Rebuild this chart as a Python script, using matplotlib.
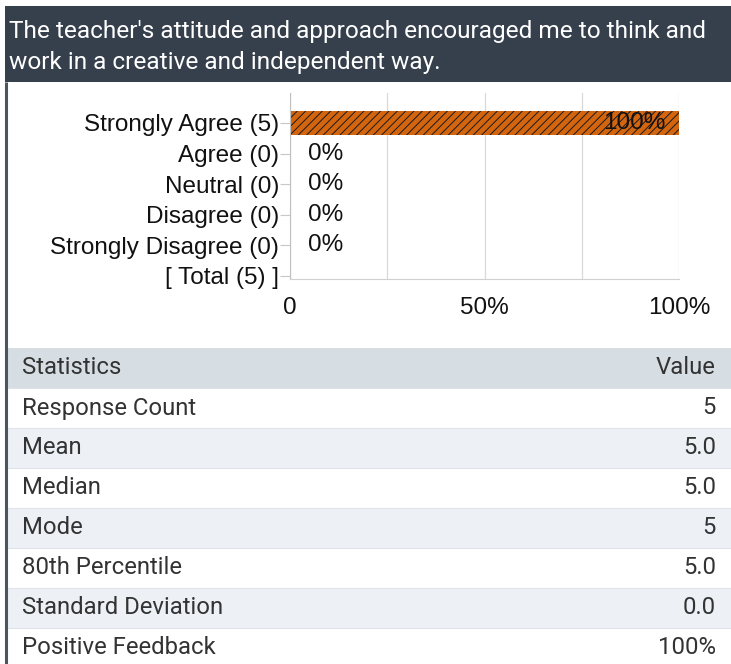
import matplotlib.pyplot as plt
from matplotlib.patches import Rectangle

# ── Data ───────────────────────────────────────────────────────────────
TITLE = ("The teacher's attitude and approach encouraged me to think and\n"
         "work in a creative and independent way.")
CATEGORIES = ["Strongly Agree (5)", "Agree (0)", "Neutral (0)",
              "Disagree (0)", "Strongly Disagree (0)", "[ Total (5) ]"]
PERCENTS = [100, 0, 0, 0, 0]
X_TICKS = [0, 25, 50, 75, 100]
X_TICK_LABELS = ["0", "", "50%", "", "100%"]
STAT_NAMES = ["Response Count", "Mean", "Median", "Mode",
              "80th Percentile", "Standard Deviation", "Positive Feedback"]
STAT_VALUES = ["5", "5.0", "5.0", "5", "5.0", "0.0", "100%"]
# ───────────────────────────────────────────────────────────────────────

plt.rcParams["hatch.linewidth"] = 0.7

W, H = 731, 664
fig = plt.figure(figsize=(W / 100, H / 100), dpi=100)

# fond en pixels (origine en haut à gauche)
bg = fig.add_axes([0, 0, 1, 1])
bg.set_xlim(0, W)
bg.set_ylim(H, 0)
bg.axis("off")

UI_FONT = "Roboto"
CHART_FONT = "Liberation Sans"
TXT = "#333333"

# bandeau titre
bg.add_patch(Rectangle((5, 6), W - 5, 76, color="#36404d", lw=0))
bg.text(9, 47, TITLE, color="white", fontsize=17.6, family=UI_FONT,
        va="center", ha="left", linespacing=1.4)

# bordure gauche
bg.plot([6, 6], [82, H], color="#4a5563", lw=2.2, solid_capstyle="butt")

# tableau de statistiques
row_h = 40
top = 348
fs_tab = 17.2
bg.add_patch(Rectangle((8, top), W - 8, row_h, color="#d6dee3", lw=0))
bg.text(22, top + row_h / 2, "Statistics", fontsize=fs_tab, family=UI_FONT,
        color=TXT, va="center")
bg.text(716, top + row_h / 2, "Value", fontsize=fs_tab, family=UI_FONT,
        color=TXT, va="center", ha="right")
for i, (name, val) in enumerate(zip(STAT_NAMES, STAT_VALUES)):
    y0 = top + row_h * (i + 1)
    if i % 2 == 1:
        bg.add_patch(Rectangle((8, y0), W - 8, row_h, color="#edf1f5", lw=0))
    bg.plot([8, W], [y0, y0], color="#dde3e8", lw=0.8)
    bg.text(22, y0 + row_h / 2, name, fontsize=fs_tab, family=UI_FONT,
            color=TXT, va="center")
    bg.text(716, y0 + row_h / 2, val, fontsize=fs_tab, family=UI_FONT,
            color=TXT, va="center", ha="right")

# ── Graphique à barres ─────────────────────────────────────────────────
ax_l, ax_r, ax_t, ax_b = 290, 679, 93, 279
ax = fig.add_axes([ax_l / W, 1 - ax_b / H, (ax_r - ax_l) / W, (ax_b - ax_t) / H])
ypos = list(range(len(CATEGORIES)))
fs_chart = 17.5
ax.barh(ypos[:len(PERCENTS)], PERCENTS, height=0.78, color="#d4650f",
        edgecolor="#1a1a1a", linewidth=0, hatch="////", zorder=2)
for y, p in zip(ypos, PERCENTS):
    if p > 0:
        ax.text(p - 3.5, y, f"{p}%", ha="right", va="center", fontsize=fs_chart,
                family=CHART_FONT, color="#111111", zorder=3)
    else:
        ax.text(4.5, y, f"{p}%", ha="left", va="center", fontsize=fs_chart,
                family=CHART_FONT, color="#111111", zorder=3)

ax.set_xlim(0, 100)
ax.set_ylim(5.1, -0.98)
ax.set_yticks(ypos)
ax.set_yticklabels(CATEGORIES, fontsize=fs_chart, family=CHART_FONT, color="#111111")
ax.set_xticks(X_TICKS)
ax.set_xticklabels(X_TICK_LABELS, fontsize=fs_chart,
                   family=CHART_FONT, color="#111111")
ax.tick_params(axis="x", length=0, pad=13)
ax.tick_params(axis="y", length=7, color="#c8c8c8", pad=1)
ax.grid(axis="x", color="#d9d9d9", lw=0.9, zorder=0)
for s in ["top", "right"]:
    ax.spines[s].set_visible(False)
ax.spines["left"].set_color("#c0c0c0")
ax.spines["bottom"].set_color("#d0d0d0")
ax.set_facecolor("none")

fig.savefig("out.png", dpi=100)
